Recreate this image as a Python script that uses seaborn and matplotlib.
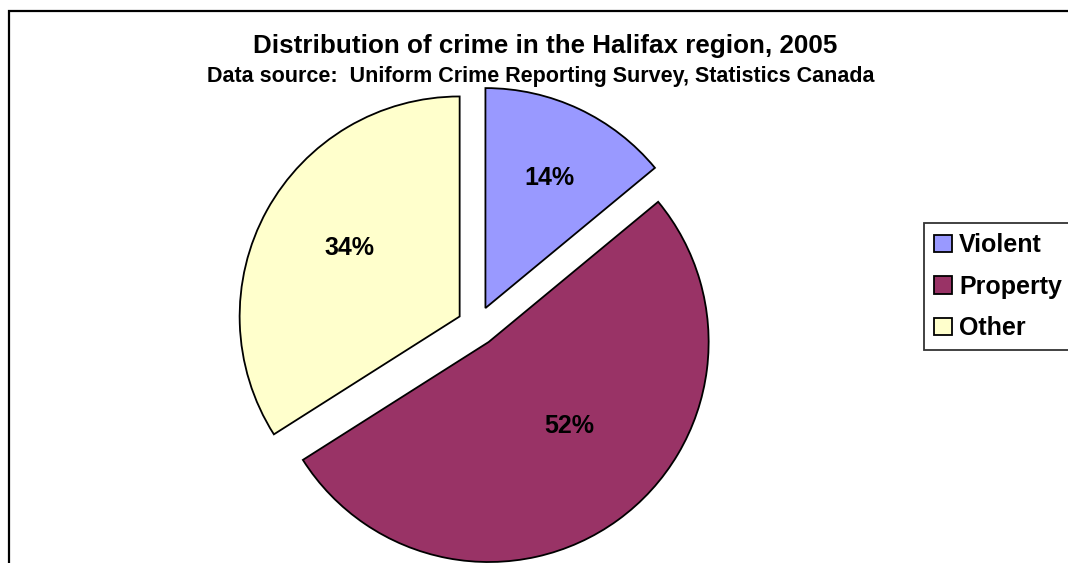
import numpy as np
import matplotlib
matplotlib.use("Agg")
from matplotlib import pyplot as plt
from matplotlib.patches import Rectangle
import seaborn as sns

# data
categories = ["Violent", "Property", "Other"]
shares = [14, 52, 34]
colours = ["#9999FF", "#993366", "#FFFFCC"]
title = "Distribution of crime in the Halifax region, 2005"
subtitle = "Data source:  Uniform Crime Reporting Survey, Statistics Canada"

# label placement inside each slice (fraction of radius, turn in degrees)
label_dist = [0.66, 0.53, 0.59]
label_turn = [-1, 8, -3]

sns.set_theme(style="white")
plt.rcParams['font.family'] = ['Liberation Sans', 'DejaVu Sans']
plt.rcParams['text.color'] = 'black'

W, H = 1068, 563
fig = plt.figure(figsize=(W / 100, H / 100), dpi=100)

# pie axes: centre ~(477, 326) px, radius ~220 px
r_px = 220
lim = 1.2
cx, cy = 477, H - 326
side = 2 * lim * r_px
ax = fig.add_axes([(cx - side / 2) / W, (cy - side / 2) / H, side / W, side / H])

wedges, texts = ax.pie(
    shares, colors=colours, startangle=90, counterclock=False,
    explode=[0.09] * len(shares),
    wedgeprops=dict(edgecolor='black', linewidth=1.3))
for w, s, d, t in zip(wedges, shares, label_dist, label_turn):
    ang = np.deg2rad((w.theta1 + w.theta2) / 2 + t)
    ax.text(w.center[0] + d * np.cos(ang), w.center[1] + d * np.sin(ang),
            f"{s}%", ha='center', va='center',
            fontsize=18, fontweight='bold', color='black')
ax.set_xlim(-lim, lim)
ax.set_ylim(-lim, lim)
ax.set_aspect('equal')
ax.axis('off')

fig.text(545 / W, 1 - 46 / H, title, ha='center', va='center',
         fontsize=18.7, fontweight='bold')
fig.text(541 / W, 1 - 77 / H, subtitle, ha='center', va='center',
         fontsize=15.5, fontweight='bold')

leg = fig.legend(wedges, categories, loc='upper left',
                 bbox_to_anchor=(924 / W, 1 - 223 / H),
                 prop=dict(weight='bold', size=18),
                 handlelength=0.7, handleheight=0.7, handletextpad=0.3,
                 labelspacing=0.7, borderpad=0.4, borderaxespad=0,
                 fancybox=False, frameon=True)
leg.get_frame().set_edgecolor('black')
leg.get_frame().set_linewidth(1.3)
for h in leg.legend_handles:
    h.set_edgecolor('black')
    h.set_linewidth(1.3)

# outer chart border (right and bottom fall outside the picture)
fig.add_artist(Rectangle((9 / W, -0.2), 1.2, 1 - 11 / H + 0.2,
                         transform=fig.transFigure, fill=False,
                         edgecolor='black', linewidth=1.6))

fig.savefig('out.png', dpi=100)
